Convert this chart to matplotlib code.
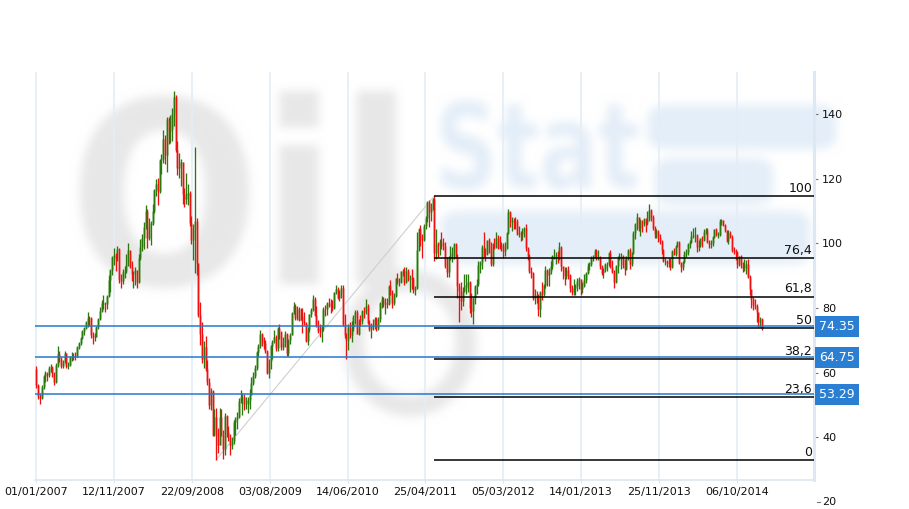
import numpy as np
import pandas as pd
import matplotlib
matplotlib.use("Agg")
import matplotlib.pyplot as plt
import matplotlib.dates as mdates
from matplotlib.patches import PathPatch, Ellipse, FancyBboxPatch
from matplotlib.textpath import TextPath
from matplotlib.font_manager import FontProperties
from matplotlib.transforms import Affine2D

W, H = 909, 509

# ── Data: weekly bars ──────────────────────────────────────
close_2007 = [56.3, 52.9, 52.0, 55.4, 59.0, 59.9, 59.4, 61.4, 61.6, 60.0, 57.1, 62.3, 65.9,
              64.3, 61.9, 63.4, 66.0, 61.9, 62.4, 64.9, 65.2, 65.1, 64.8, 68.0, 69.1, 70.7,
              72.8, 73.9, 75.6, 77.0, 76.9, 71.5, 71.0, 71.1, 74.0, 76.7, 79.1, 81.6, 81.6,
              81.2, 83.7, 88.6, 91.9, 95.9, 96.3, 95.1, 98.2, 88.7, 88.3, 91.3, 91.4, 93.3]
high_2007 = [61.9, 56.6, 53.5, 56.2, 59.3, 60.6, 60.2, 62.2, 62.7, 62.1, 60.3, 62.9, 68.1,
             66.6, 64.9, 64.0, 66.8, 66.2, 63.2, 65.2, 66.3, 66.2, 66.5, 68.4, 69.6, 71.0,
             73.2, 74.1, 76.0, 78.8, 77.4, 77.1, 72.5, 72.4, 74.4, 77.0, 80.2, 82.4, 83.9,
             82.0, 84.1, 90.1, 92.2, 96.2, 98.6, 96.9, 99.3, 98.5, 90.4, 92.2, 93.1, 96.6]
low_2007 = [55.1, 51.9, 50.4, 51.8, 55.0, 57.2, 57.5, 58.7, 60.3, 58.8, 56.2, 56.8, 61.8,
            63.4, 61.3, 61.4, 63.0, 61.5, 61.1, 61.9, 63.6, 63.9, 63.8, 64.7, 67.3, 68.6,
            70.4, 71.8, 73.6, 74.0, 74.5, 70.8, 69.0, 69.9, 71.0, 73.6, 76.2, 78.7, 79.7,
            78.8, 79.8, 83.3, 84.9, 90.3, 93.4, 91.4, 94.6, 87.9, 86.2, 87.5, 89.2, 91.0]

close_2008 = [97.9, 92.7, 90.6, 90.7, 91.8, 88.1, 95.5, 98.8, 101.8, 105.2, 110.2, 101.8, 105.6,
              106.2, 110.1, 116.7, 118.5, 116.3, 125.9, 126.3, 132.2, 127.4, 138.5, 134.9, 135.4, 140.2,
              145.3, 128.9, 123.3, 124.1, 125.1, 115.2, 113.8, 114.6, 115.5, 106.2, 101.2, 104.6, 106.9,
              93.9, 77.7, 71.9, 64.2, 67.8, 61.0, 57.0, 49.9, 54.4, 40.8, 46.3, 42.4, 37.7]
high_2008 = [100.1, 98.0, 94.5, 91.5, 92.7, 91.9, 96.7, 101.3, 103.0, 106.5, 111.8, 110.7, 107.9,
             106.9, 112.2, 117.0, 119.9, 120.4, 126.2, 127.8, 135.1, 133.6, 139.1, 139.1, 139.9, 142.0,
             147.3, 145.9, 131.8, 128.0, 126.3, 125.3, 117.1, 121.8, 118.4, 116.3, 108.5, 106.1, 130.0,
             107.8, 94.1, 82.0, 75.6, 69.9, 71.2, 64.0, 58.4, 55.2, 54.5, 48.6, 49.2, 42.9]
low_2008 = [93.0, 92.4, 88.5, 86.1, 87.0, 86.1, 87.8, 95.0, 97.6, 98.4, 104.6, 98.7, 101.1,
            99.6, 105.8, 109.5, 114.6, 111.8, 115.5, 121.6, 124.8, 124.5, 122.0, 130.9, 131.2, 131.7,
            136.4, 128.2, 121.1, 120.4, 117.8, 112.3, 111.3, 112.3, 111.9, 105.5, 99.9, 95.0, 91.0,
            90.1, 77.1, 68.6, 63.0, 61.3, 60.5, 56.3, 48.8, 48.3, 40.5, 40.3, 33.0, 35.1]

close_2009 = [46.3, 40.8, 36.5, 46.5, 41.7, 40.2, 37.5, 38.9, 44.8, 45.5, 46.3, 51.1, 52.4,
              52.5, 50.3, 50.3, 51.6, 53.2, 56.7, 59.0, 61.3, 66.3, 68.4, 72.0, 69.6, 69.2,
              66.7, 59.9, 63.6, 68.1, 69.5, 70.9, 67.5, 73.9, 72.7, 68.0, 69.3, 72.0, 66.0,
              70.0, 71.8, 78.5, 80.5, 77.0, 79.6, 76.4, 77.5, 76.1, 75.5, 69.9, 73.4, 78.1, 79.4]
high_2009 = [49.0, 48.6, 42.2, 47.4, 46.9, 43.4, 41.1, 40.0, 45.2, 46.3, 47.7, 52.0, 54.7,
             53.8, 53.5, 52.6, 52.6, 54.9, 58.6, 60.1, 62.3, 66.6, 69.0, 73.2, 72.3, 71.0,
             70.2, 67.1, 64.2, 68.5, 70.1, 73.2, 71.5, 74.2, 75.0, 72.9, 71.1, 73.0, 72.3,
             70.4, 72.2, 78.8, 82.0, 81.3, 80.5, 80.3, 80.0, 79.9, 78.9, 75.8, 74.1, 78.3, 80.0]
low_2009 = [37.5, 40.4, 33.2, 34.6, 40.1, 38.9, 34.5, 36.2, 37.8, 40.7, 42.5, 45.9, 50.5,
            47.0, 48.5, 48.6, 47.4, 48.8, 53.0, 56.1, 58.2, 60.9, 65.2, 67.6, 68.3, 67.3,
            66.0, 59.6, 58.3, 61.1, 64.2, 69.2, 66.8, 66.6, 70.5, 67.0, 67.1, 68.0, 65.1,
            65.2, 68.8, 71.6, 78.2, 76.2, 76.4, 76.0, 76.2, 72.4, 74.6, 69.5, 68.6, 72.5, 77.2]

close_2010 = [82.8, 78.0, 74.5, 72.9, 72.8, 74.1, 79.8, 79.7, 81.5, 81.2, 80.7, 80.0, 84.9,
              85.9, 83.2, 85.1, 86.2, 75.1, 71.6, 70.0, 74.0, 71.5, 73.8, 77.2, 78.9, 72.1,
              76.1, 76.0, 79.0, 78.9, 80.7, 75.4, 73.5, 74.7, 74.6, 76.5, 73.7, 76.5, 81.6,
              82.7, 81.3, 81.7, 81.4, 86.9, 84.9, 81.5, 83.8, 89.2, 88.0, 88.0, 91.5, 91.4]
high_2010 = [83.9, 83.5, 80.5, 76.4, 75.2, 74.9, 80.2, 80.9, 82.0, 83.2, 82.8, 82.5, 85.1,
             87.1, 86.6, 85.5, 87.2, 87.0, 78.2, 72.2, 75.0, 75.6, 75.9, 77.9, 79.4, 79.5,
             76.6, 78.0, 79.5, 80.3, 82.9, 81.1, 76.2, 75.4, 76.5, 77.1, 77.3, 77.2, 81.9,
             83.6, 83.3, 83.2, 83.0, 87.1, 88.6, 85.5, 84.6, 89.4, 90.8, 89.2, 91.6, 92.1]
low_2010 = [79.1, 77.5, 74.1, 72.4, 71.1, 69.5, 73.0, 77.6, 77.8, 80.4, 78.5, 79.0, 79.7,
            84.3, 82.8, 82.2, 83.0, 74.4, 70.8, 64.2, 67.1, 70.8, 69.5, 73.0, 75.2, 71.9,
            71.6, 74.3, 75.2, 76.8, 78.2, 75.1, 73.0, 70.8, 73.3, 73.4, 72.8, 73.1, 75.8,
            80.1, 80.4, 78.2, 80.1, 80.8, 84.1, 80.1, 80.9, 83.3, 87.4, 86.7, 87.9, 89.9]

close_2011 = [88.0, 91.5, 89.1, 89.3, 89.0, 85.6, 86.2, 97.9, 104.4, 101.2, 101.1, 105.4,
              107.9, 112.8, 109.7, 112.3, 113.9, 97.2, 99.7, 99.5, 100.6, 100.2, 99.3, 93.0,
              91.2, 95.4, 96.2, 97.2, 99.9, 95.7, 86.9, 85.4, 82.3, 85.4, 86.5, 87.2, 88.0,
              79.9, 79.2, 83.0, 86.8, 87.4, 93.3, 94.3, 99.0, 97.4, 96.8, 101.0, 99.4, 93.5,
              99.7, 98.8]
high_2011 = [92.6, 92.6, 92.0, 90.1, 92.0, 89.5, 86.8, 103.4, 104.9, 105.7, 103.0, 106.0,
             108.5, 113.0, 113.5, 112.6, 114.0, 114.8, 104.6, 100.5, 101.4, 103.4, 101.8, 100.3,
             95.9, 96.0, 99.3, 98.9, 100.2, 100.0, 96.6, 87.7, 88.2, 86.6, 90.5, 90.5, 90.5,
             88.3, 84.6, 83.4, 87.0, 89.0, 94.7, 94.6, 99.5, 103.4, 98.5, 101.2, 101.7, 100.6,
             100.1, 101.8]
low_2011 = [87.2, 87.7, 88.5, 85.1, 86.0, 84.8, 83.9, 85.9, 97.7, 99.3, 95.4, 100.8,
            104.6, 106.6, 105.0, 106.9, 110.3, 94.6, 95.1, 95.8, 96.4, 98.3, 98.0, 92.5,
            89.6, 89.6, 94.8, 94.3, 95.3, 95.4, 83.0, 75.7, 79.3, 80.7, 84.9, 84.3, 85.1,
            78.6, 77.1, 75.0, 81.2, 84.5, 86.9, 91.0, 92.2, 95.7, 94.6, 96.4, 97.0, 93.1,
            93.0, 98.4]

close_2012 = [101.6, 98.7, 98.5, 99.6, 97.8, 98.7, 103.2, 109.8, 106.7, 107.4, 107.1, 106.9,
              103.0, 103.3, 102.8, 103.9, 104.9, 98.5, 96.1, 91.5, 90.9, 83.2, 84.1, 84.0,
              79.8, 85.0, 84.5, 87.1, 91.8, 90.1, 91.4, 92.9, 96.0, 96.2, 96.5, 96.4, 99.0,
              92.9, 92.2, 89.9, 91.9, 90.1, 86.3, 84.9, 86.1, 86.9, 88.3, 88.9, 85.9, 86.7,
              88.7, 90.8]
high_2012 = [103.7, 102.5, 102.4, 100.5, 100.1, 100.5, 103.6, 110.6, 110.0, 108.2, 107.8, 108.3,
             107.7, 105.5, 104.0, 104.8, 105.1, 106.0, 98.9, 96.7, 92.8, 91.1, 85.9, 85.3,
             84.4, 85.2, 88.0, 87.5, 92.9, 92.1, 92.3, 94.5, 96.4, 98.3, 97.4, 97.6, 100.4,
             99.1, 93.1, 92.6, 92.8, 93.1, 90.4, 87.1, 88.9, 87.4, 89.3, 89.6, 89.1, 88.0,
             90.5, 91.2]
low_2012 = [98.6, 98.2, 98.2, 97.8, 95.4, 96.1, 98.2, 102.9, 105.0, 104.0, 104.6, 104.5,
            102.6, 101.9, 100.7, 101.2, 102.0, 97.8, 95.0, 91.0, 89.3, 82.6, 81.2, 81.7,
            77.6, 77.3, 82.6, 83.8, 86.3, 86.9, 86.8, 90.6, 92.1, 95.2, 93.6, 94.1, 95.0,
            91.6, 88.9, 87.2, 89.0, 89.1, 85.1, 84.1, 84.0, 84.1, 85.4, 86.0, 84.1, 84.7,
            86.4, 87.9]

close_2013 = [93.1, 93.6, 95.6, 95.9, 97.8, 95.7, 95.9, 93.1, 90.7, 92.0, 93.5, 93.7, 97.2,
              92.7, 91.3, 88.0, 93.0, 95.6, 96.0, 96.0, 93.2, 92.0, 96.0, 97.9, 93.7, 97.0,
              103.2, 106.0, 108.1, 104.7, 106.9, 106.0, 107.5, 106.4, 107.7, 110.5, 108.2,
              104.7, 102.9, 103.8, 102.0, 100.8, 97.9, 94.6, 94.6, 93.8, 94.4, 92.7, 97.7,
              96.6, 99.3, 100.3]
high_2013 = [93.9, 94.4, 96.0, 96.4, 98.2, 98.2, 98.0, 96.1, 93.4, 92.4, 93.8, 94.2, 97.3,
             97.9, 95.0, 91.9, 93.3, 96.0, 97.2, 96.9, 96.5, 95.2, 96.1, 98.3, 98.7, 97.4,
             103.8, 106.2, 109.3, 108.2, 107.5, 107.2, 108.0, 107.9, 110.0, 112.2, 110.7,
             108.8, 105.3, 104.4, 104.2, 102.9, 101.0, 98.2, 95.5, 95.0, 95.4, 95.6, 98.1,
             98.6, 99.5, 100.8]
low_2013 = [90.5, 91.8, 93.1, 94.6, 95.6, 94.9, 95.0, 92.1, 90.2, 89.3, 91.1, 91.6, 93.0,
            92.3, 90.9, 86.1, 87.8, 90.7, 94.9, 92.1, 92.4, 90.3, 91.8, 94.9, 92.2, 93.1,
            96.8, 101.5, 104.3, 104.0, 102.2, 103.4, 105.3, 103.6, 105.7, 107.0, 106.9,
            104.1, 101.7, 101.8, 100.4, 99.8, 96.7, 94.2, 93.2, 92.8, 92.6, 91.8, 92.5,
            96.3, 96.1, 98.8]

close_2014 = [94.0, 92.7, 94.4, 96.6, 97.5, 99.9, 100.3, 102.2, 102.6, 102.6, 98.9, 99.5,
              101.7, 101.1, 103.7, 104.3, 100.6, 99.8, 100.0, 102.0, 104.4, 102.7, 102.7,
              107.0, 107.3, 105.7, 104.1, 100.8, 103.1, 102.1, 97.9, 97.7, 97.4, 93.7, 96.0,
              93.3, 92.3, 92.4, 93.5, 89.7, 85.8, 82.8, 81.0, 80.5, 78.7, 75.8, 76.5, 73.7]
high_2014 = [100.8, 94.4, 94.6, 97.8, 98.3, 100.2, 101.0, 103.8, 104.9, 105.2, 102.8, 101.2,
             101.8, 102.2, 104.4, 104.9, 104.8, 101.0, 101.1, 102.3, 104.6, 104.7, 103.4,
             107.7, 107.7, 107.4, 106.0, 104.3, 104.1, 104.0, 102.5, 98.8, 98.4, 97.7, 96.1,
             96.3, 94.2, 95.2, 95.0, 95.1, 90.2, 86.0, 83.5, 82.9, 81.1, 78.8, 77.1, 76.9]
low_2014 = [93.6, 91.2, 91.8, 94.1, 95.8, 96.3, 98.5, 100.1, 101.6, 100.5, 97.4, 97.6,
            98.9, 98.8, 100.8, 103.0, 100.0, 98.6, 98.5, 99.3, 101.8, 102.2, 101.6,
            102.3, 105.7, 105.3, 103.6, 100.5, 99.7, 101.6, 97.5, 96.8, 95.0, 92.5, 93.1,
            92.5, 91.1, 91.4, 90.6, 89.2, 84.0, 80.0, 79.4, 79.8, 75.8, 74.2, 74.1, 73.2]

close = close_2007 + close_2008 + close_2009 + close_2010 + close_2011 + close_2012 + close_2013 + close_2014
high = high_2007 + high_2008 + high_2009 + high_2010 + high_2011 + high_2012 + high_2013 + high_2014
low = low_2007 + low_2008 + low_2009 + low_2010 + low_2011 + low_2012 + low_2013 + low_2014
first_open = 61.1

fib_low, fib_high = 33.0, 114.8
fib_low_idx, fib_high_idx = 102, 226
fib_levels = [0, 23.6, 38.2, 50, 61.8, 76.4, 100]
fib_labels = ["0", "23,6", "38,2", "50", "61,8", "76,4", "100"]

price_lines = [74.35, 64.75, 53.29]

tick_dates = ["2007-01-01", "2007-11-12", "2008-09-22", "2009-08-03",
              "2010-06-14", "2011-04-25", "2012-03-05", "2013-01-14",
              "2013-11-25", "2014-10-06"]
y_ticks = [40, 60, 80, 100, 120, 140]


# ── Watermark (drawn off-screen, then blurred) ─────────────
def box_blur(a, r):
    for axis in (0, 1):
        pad = [(0, 0)] * a.ndim
        pad[axis] = (r, r + 1)
        cs = np.cumsum(np.pad(a, pad, mode="edge"), axis=axis)
        n = a.shape[axis]
        a = (np.take(cs, np.arange(2 * r + 1, 2 * r + 1 + n), axis=axis)
             - np.take(cs, np.arange(0, n), axis=axis)) / (2 * r + 1)
    return a


def add_text_block(f, s, x0, y0, x1, y1, color):
    tp = TextPath((0, 0), s, size=100,
                  prop=FontProperties(family="DejaVu Sans", weight="bold"))
    bb = tp.get_extents()
    tr = Affine2D().translate(-bb.x0, -bb.y0) \
        .scale((x1 - x0) / bb.width / W, (y1 - y0) / bb.height / H) \
        .translate(x0 / W, 1 - y1 / H) + f.transFigure
    f.add_artist(PathPatch(tp, transform=tr, fc=color, ec="none"))


def add_band(f, x0, y0, x1, y1, color):
    f.add_artist(FancyBboxPatch((x0 / W, 1 - y1 / H), (x1 - x0) / W, (y1 - y0) / H,
                                boxstyle="round,pad=0,rounding_size=0.025",
                                transform=f.transFigure, fc=color, ec="none"))


def make_watermark():
    wf = plt.figure(figsize=(W / 100, H / 100), dpi=100)
    gray_wm, blue_wm = "#e8e8e8", "#e4eef8"
    add_band(wf, 650, 107, 838, 151, blue_wm)
    add_band(wf, 657, 160, 775, 207, blue_wm)
    add_band(wf, 443, 213, 812, 266, blue_wm)
    add_text_block(wf, "Stat", 443, 102, 640, 192, blue_wm)
    add_text_block(wf, "Oil", 82, 93, 398, 290, gray_wm)
    wf.add_artist(Ellipse((412 / W, 1 - 345 / H), 112 / W, 126 / H,
                          transform=wf.transFigure, fc="none", ec=gray_wm, lw=15))
    wf.canvas.draw()
    img = np.asarray(wf.canvas.buffer_rgba())[..., :3].astype(float) / 255
    plt.close(wf)
    for _ in range(2):
        img = box_blur(img, 5)
    return np.clip(img, 0, 1)


# ── Figure ─────────────────────────────────────────────────
fig = plt.figure(figsize=(W / 100, H / 100), dpi=100)
fig.figimage(make_watermark(), 0, 0, zorder=-10)
ax = fig.add_axes([35 / W, 1 - 480 / H, (814.3 - 35) / W, (480 - 72) / H])
ax.set_facecolor("none")

# ── Candles ────────────────────────────────────────────────
dates = pd.date_range("2007-01-02", "2015-01-16", periods=len(close))
xd = mdates.date2num(dates.to_pydatetime())
c = np.array(close)
o = np.concatenate([[first_open], c[:-1]])
body_lo = np.minimum(o, c)
body_hi = np.maximum(o, c)
wick_lo = np.minimum(np.array(low), body_lo)
wick_hi = np.maximum(np.array(high), body_hi)
up = c >= o

ax.vlines(xd[up], body_lo[up], body_hi[up], colors="#8fbf7f", lw=1.8, zorder=3)
ax.vlines(xd[~up], body_lo[~up], body_hi[~up], colors="#f39c9c", lw=1.8, zorder=3)
ax.vlines(xd[up], wick_lo[up], wick_hi[up], colors="#2b780f", lw=0.95, zorder=4)
ax.vlines(xd[~up], wick_lo[~up], wick_hi[~up], colors="#f01010", lw=0.95, zorder=4)

# ── Fibonacci retracement ──────────────────────────────────
ax.plot([xd[fib_low_idx], xd[fib_high_idx]], [fib_low, fib_high],
        color="#cfcfcf", lw=0.8, zorder=2)
x_right = mdates.date2num(pd.Timestamp("2015-08-16").to_pydatetime())
for lvl, lab in zip(fib_levels, fib_labels):
    y = fib_low + (fib_high - fib_low) * lvl / 100
    ax.plot([xd[fib_high_idx], x_right], [y, y], color="black", lw=1.1,
            zorder=5, solid_capstyle="butt")
    ax.annotate(lab, xy=(1, y), xycoords=ax.get_yaxis_transform(),
                xytext=(-1.6, 3.0), textcoords="offset points",
                ha="right", va="baseline", fontsize=9, color="#111111")

for v in price_lines:
    ax.axhline(v, color="#2379cf", lw=1.1, zorder=6)
    ax.text(1.006, v, f"{v:.2f}", transform=ax.get_yaxis_transform(),
            ha="left", va="center", color="white", fontsize=9,
            bbox=dict(boxstyle="square,pad=0.33", fc="#2b7fd3", ec="none"),
            clip_on=False, zorder=7)

# ── Axes ───────────────────────────────────────────────────
ax.set_xlim(mdates.date2num(pd.Timestamp("2006-12-27").to_pydatetime()), x_right)
ax.set_ylim(26.75, 153.1)

tick_x = mdates.date2num(pd.to_datetime(tick_dates).to_pydatetime())
ax.set_xticks(tick_x)
ax.xaxis.set_major_formatter(mdates.DateFormatter("%d/%m/%Y"))
ax.grid(axis="x", color="#e4edf6", lw=1.2, zorder=0)
ax.tick_params(axis="x", length=2.5, color="#dce6f0", pad=2.5,
               labelsize=8, labelcolor="#111111")

ax.yaxis.tick_right()
ax.set_yticks(y_ticks)
ax.tick_params(axis="y", length=3, color="#777777", pad=2.5, labelsize=8,
               labelcolor="#111111")
# lowest tick label sits below the plot frame
ax.plot([1.0032, 1.0072], [20, 20], transform=ax.get_yaxis_transform(),
        color="#777777", lw=0.8, clip_on=False)
ax.text(1.0105, 20, "20", transform=ax.get_yaxis_transform(), ha="left",
        va="center", fontsize=8, color="#111111", clip_on=False)

for side in ["left", "top"]:
    ax.spines[side].set_visible(False)
ax.spines["bottom"].set_color("#dce6f0")
ax.spines["bottom"].set_linewidth(1.2)
ax.spines["right"].set_color("#dce9f5")
ax.spines["right"].set_linewidth(2.2)

fig.savefig("out.png", dpi=100)
